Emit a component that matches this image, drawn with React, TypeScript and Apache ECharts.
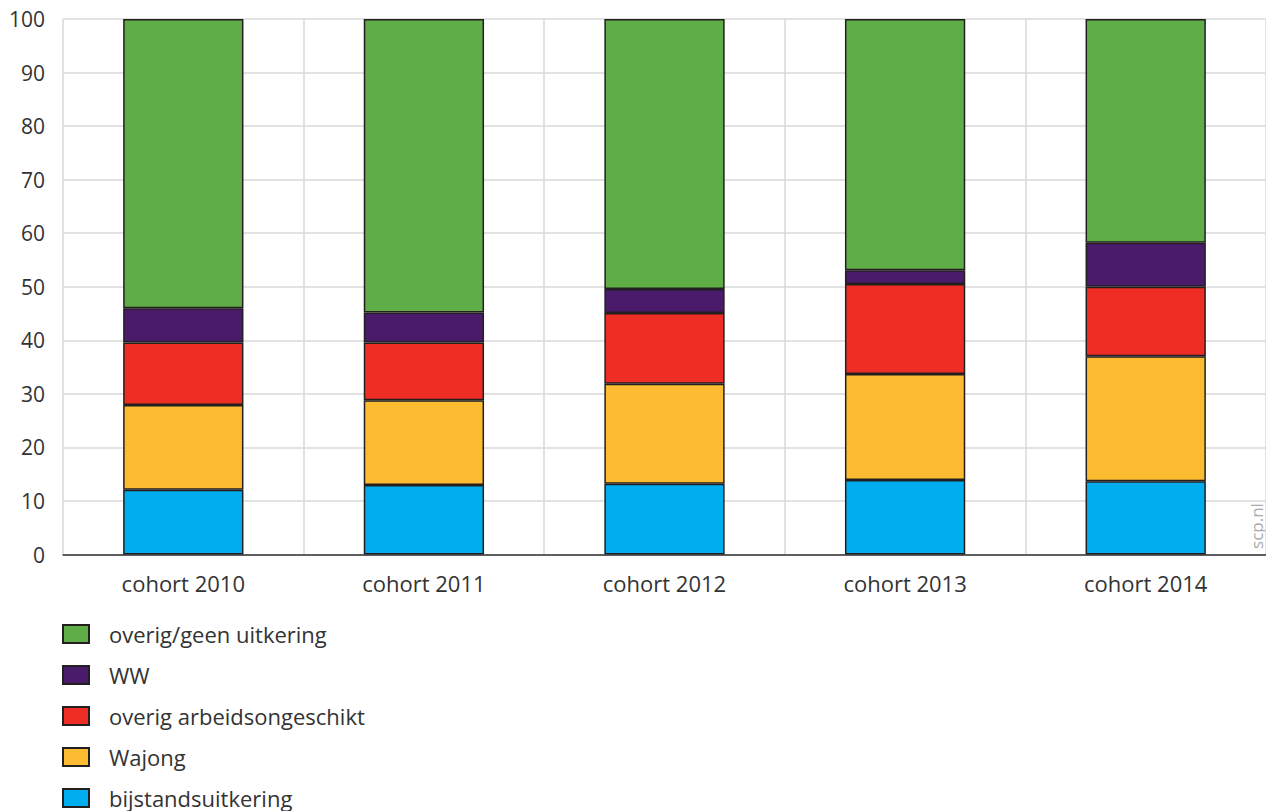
import React, { useEffect, useRef } from "react";
import * as echarts from "echarts";

const categories = ["cohort 2010", "cohort 2011", "cohort 2012", "cohort 2013", "cohort 2014"];
const bijstand = [12.1, 13.0, 13.2, 13.9, 13.7];
const wajong = [15.8, 15.8, 18.7, 19.8, 23.3];
const arbeidsongeschikt = [11.7, 10.8, 13.2, 16.8, 13.0];
const ww = [6.4, 5.6, 4.5, 2.6, 8.2];
const overig = [54.0, 54.8, 50.4, 46.9, 41.8];

const seriesNames = ["bijstandsuitkering", "Wajong", "overig arbeidsongeschikt", "WW", "overig/geen uitkering"];
const seriesColors = ["#00aeef", "#fcbb30", "#ee2e24", "#4a1a6b", "#5fad46"];
const legendOrder = ["overig/geen uitkering", "WW", "overig arbeidsongeschikt", "Wajong", "bijstandsuitkering"];

export default function App() {
  const ref = useRef<HTMLDivElement>(null);
  useEffect(() => {
    if (!ref.current) return;
    const chart = echarts.init(ref.current, undefined, { renderer: "svg" });
    const values = [bijstand, wajong, arbeidsongeschikt, ww, overig];
    const font = "'Open Sans', 'Noto Sans', sans-serif";
    chart.setOption({
      animation: false,
      textStyle: { fontFamily: font },
      grid: { left: 63, top: 19, width: 1205, height: 535.5, containLabel: false },
      legend: {
        orient: "vertical",
        left: 62,
        top: 623,
        height: 200,
        padding: 0,
        itemWidth: 26,
        itemHeight: 18,
        itemGap: 19,
        icon: "rect",
        data: legendOrder,
        textStyle: { fontSize: 22, lineHeight: 22, color: "#333", fontFamily: font, padding: [0, 0, 0, 15] },
      },
      xAxis: {
        type: "category",
        data: categories,
        axisLine: { lineStyle: { color: "#333", width: 1.5 } },
        axisTick: { alignWithLabel: true, length: 8, lineStyle: { color: "#333", width: 1.5 } },
        axisLabel: { fontSize: 22, color: "#333", margin: 17, fontFamily: font },
        splitLine: { show: true, lineStyle: { color: "#d9d9d9", width: 1.5 } },
      },
      yAxis: {
        type: "value",
        min: 0,
        max: 100,
        interval: 10,
        axisLine: { show: false },
        axisTick: { show: false },
        axisLabel: { fontSize: 21, color: "#333", margin: 18, fontFamily: font },
        splitLine: { show: true, lineStyle: { color: "#d9d9d9", width: 1.5 } },
      },
      series: seriesNames.map((name, i) => ({
        name,
        type: "bar",
        stack: "total",
        barWidth: "50%",
        data: values[i],
        itemStyle: { color: seriesColors[i], borderColor: "#231f20", borderWidth: 1.5 },
      })),
      graphic: [
        {
          type: "text",
          x: 1256,
          y: 526,
          rotation: Math.PI / 2,
          style: {
            text: "scp.nl",
            fill: "#aaaaaa",
            fontSize: 17,
            fontFamily: font,
            textAlign: "center",
            textVerticalAlign: "middle",
          },
        },
      ],
    });
    return () => chart.dispose();
  }, []);
  return (
    <div
      ref={ref}
      style={{ position: "fixed", left: 0, top: 0, width: 1266, height: 811, background: "#fff" }}
    />
  );
}
